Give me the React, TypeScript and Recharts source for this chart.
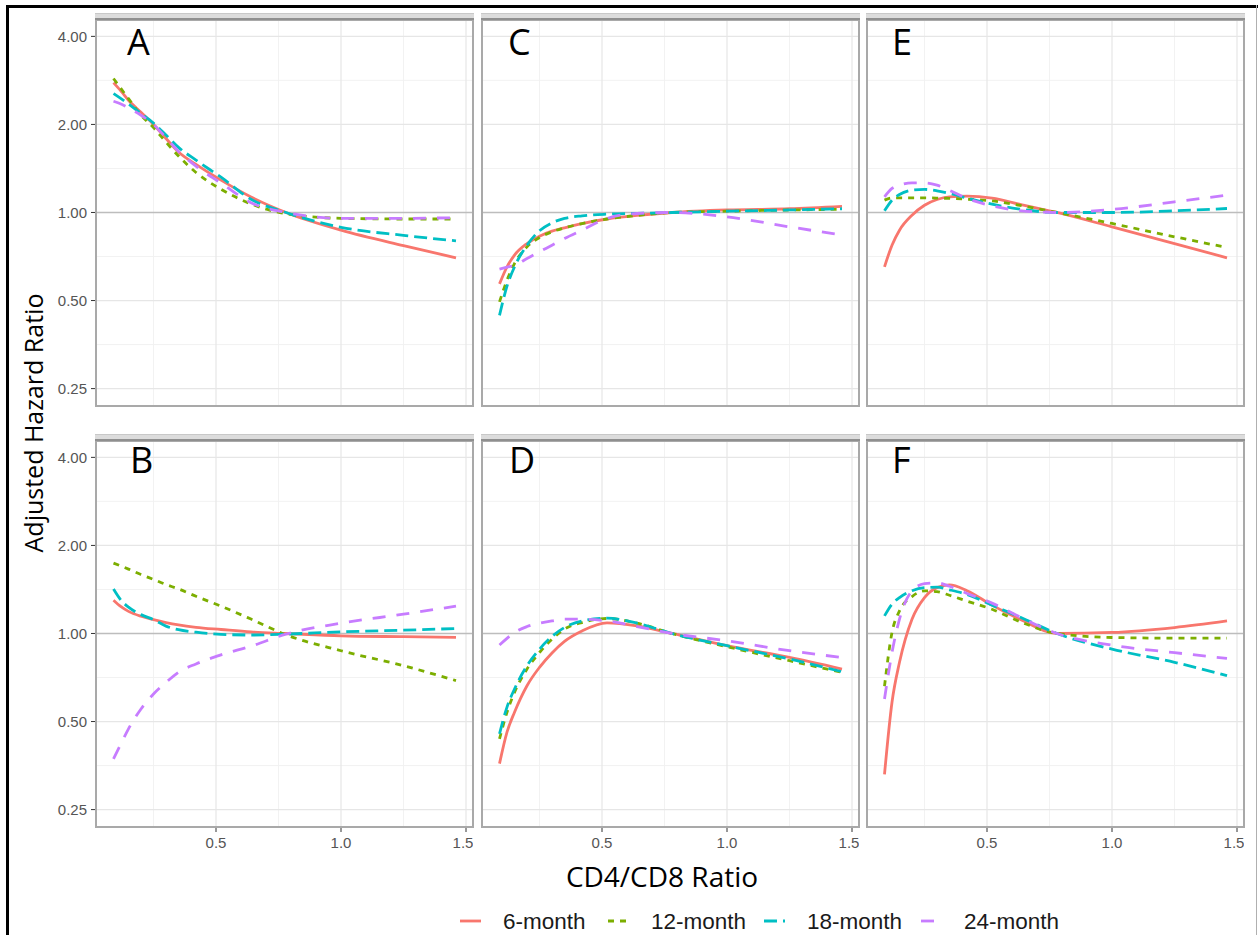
import React from 'react';
import { LineChart, Line, XAxis, YAxis, CartesianGrid } from 'recharts';

const X = [0.09, 0.12, 0.15, 0.2, 0.25, 0.3, 0.35, 0.42, 0.52, 0.64, 0.78, 1.0, 1.25, 1.46];

// panel A
const A_6 = [2.78, 2.6, 2.42, 2.2, 2.0, 1.79, 1.61, 1.46, 1.29, 1.13, 1.0, 0.87, 0.77, 0.7];
const A_12 = [2.87, 2.65, 2.45, 2.15, 1.95, 1.74, 1.56, 1.37, 1.2, 1.07, 0.99, 0.955, 0.95, 0.95];
const A_18 = [2.55, 2.45, 2.35, 2.18, 2.02, 1.84, 1.67, 1.51, 1.32, 1.11, 1.0, 0.89, 0.835, 0.8];
const A_24 = [2.4, 2.35, 2.28, 2.15, 2.0, 1.8, 1.62, 1.44, 1.26, 1.08, 1.0, 0.955, 0.955, 0.96];
// panel B
const B_6 = [1.3, 1.235, 1.19, 1.145, 1.115, 1.09, 1.07, 1.05, 1.032, 1.012, 1.0, 0.982, 0.975, 0.97];
const B_12 = [1.74, 1.7, 1.66, 1.59, 1.53, 1.47, 1.42, 1.34, 1.24, 1.12, 0.99, 0.873, 0.776, 0.69];
const B_18 = [1.42, 1.3, 1.23, 1.16, 1.115, 1.06, 1.03, 1.01, 0.993, 0.988, 0.995, 1.013, 1.026, 1.04];
const B_24 = [0.373, 0.42, 0.472, 0.552, 0.621, 0.68, 0.737, 0.787, 0.845, 0.905, 0.995, 1.084, 1.164, 1.24];
// panel C
const C_6 = [0.57, 0.652, 0.715, 0.783, 0.83, 0.863, 0.886, 0.916, 0.95, 0.977, 1.0, 1.02, 1.03, 1.05];
const C_12 = [0.495, 0.587, 0.669, 0.763, 0.821, 0.859, 0.886, 0.916, 0.95, 0.977, 1.0, 1.01, 1.02, 1.025];
const C_18 = [0.445, 0.56, 0.652, 0.773, 0.866, 0.922, 0.954, 0.974, 0.987, 0.993, 1.0, 1.01, 1.02, 1.03];
const C_24 = [0.64, 0.65, 0.66, 0.696, 0.734, 0.773, 0.815, 0.87, 0.954, 0.992, 1.0, 0.966, 0.893, 0.837];
// panel D
const D_6 = [0.359, 0.46, 0.538, 0.663, 0.766, 0.858, 0.94, 1.02, 1.087, 1.062, 1.0, 0.908, 0.828, 0.756];
const D_12 = [0.436, 0.538, 0.629, 0.756, 0.861, 0.956, 1.035, 1.09, 1.125, 1.085, 1.0, 0.901, 0.807, 0.736];
const D_18 = [0.454, 0.56, 0.646, 0.776, 0.884, 0.977, 1.048, 1.104, 1.128, 1.085, 1.0, 0.908, 0.818, 0.74];
const D_24 = [0.913, 0.962, 1.008, 1.056, 1.085, 1.104, 1.119, 1.119, 1.104, 1.056, 1.0, 0.944, 0.873, 0.828];
// panel E
const E_6 = [0.652, 0.773, 0.87, 0.979, 1.059, 1.108, 1.131, 1.137, 1.12, 1.062, 1.0, 0.893, 0.783, 0.7];
const E_12 = [1.102, 1.122, 1.122, 1.122, 1.122, 1.12, 1.117, 1.11, 1.096, 1.054, 1.0, 0.917, 0.826, 0.759];
const E_18 = [1.013, 1.102, 1.152, 1.192, 1.199, 1.186, 1.162, 1.12, 1.068, 1.024, 1.0, 1.0, 1.013, 1.032];
const E_24 = [1.131, 1.208, 1.24, 1.263, 1.263, 1.24, 1.19, 1.117, 1.054, 1.013, 1.0, 1.024, 1.088, 1.146];
// panel F
const F_6 = [0.33, 0.582, 0.797, 1.119, 1.327, 1.435, 1.465, 1.4, 1.25, 1.11, 1.0, 1.008, 1.048, 1.104];
const F_12 = [0.66, 1.008, 1.195, 1.337, 1.398, 1.39, 1.351, 1.29, 1.21, 1.09, 1.0, 0.969, 0.964, 0.964];
const F_18 = [1.149, 1.26, 1.327, 1.4, 1.434, 1.44, 1.41, 1.36, 1.25, 1.13, 1.0, 0.884, 0.797, 0.717];
const F_24 = [0.597, 0.86, 1.12, 1.4, 1.48, 1.49, 1.45, 1.37, 1.27, 1.13, 1.0, 0.912, 0.86, 0.822];

const X_TICKS = [0.5, 1.0, 1.5];
const X_MINOR = [0.25, 0.75, 1.25];
const Y_TICKS = [0.25, 0.5, 1, 2, 4];
const Y_MINOR = [0.3536, 0.7071, 1.4142, 2.8284];

const SERIES = [
  { key: 'm6', name: '6-month', color: '#F8766D', dash: undefined as string | undefined },
  { key: 'm12', name: '12-month', color: '#7CAE00', dash: '6 6' },
  { key: 'm18', name: '18-month', color: '#00BFC4', dash: '13 6' },
  { key: 'm24', name: '24-month', color: '#C77CFF', dash: '13 11' },
];

const PANELS = [
  { letter: 'A', col: 0, row: 0, series: [A_6, A_12, A_18, A_24] },
  { letter: 'C', col: 1, row: 0, series: [C_6, C_12, C_18, C_24] },
  { letter: 'E', col: 2, row: 0, series: [E_6, E_12, E_18, E_24] },
  { letter: 'B', col: 0, row: 1, series: [B_6, B_12, B_18, B_24] },
  { letter: 'D', col: 1, row: 1, series: [D_6, D_12, D_18, D_24] },
  { letter: 'F', col: 2, row: 1, series: [F_6, F_12, F_18, F_24] },
];

const PANEL_W = 377;
const PANEL_H = 386;
const COL_LEFT = [96, 482, 867];
const ROW_TOP = [20, 441];
const Y_AXIS_W = 96;
const X_AXIS_H = 30;
const X_DOMAIN: [number, number] = [0.02, 1.528];
const Y_DOMAIN: [number, number] = [0.218, 4.55];

const LETTER_POS = { A: [127, 55], C: [508, 55], E: [892, 55], B: [130, 473], D: [509, 473], F: [892, 473] } as Record<string, number[]>;
const LEGEND_X = [460, 608, 764, 921];

const TICK_FONT = '"Liberation Sans", Arial, sans-serif';

// tick labels drawn by hand so the font size sticks
const YTick = (props: any) => (
  <text x={props.x} y={props.y} dy="0.36em" textAnchor="end" fontSize={15} fill="#555" fontFamily={TICK_FONT}>
    {Number(props.payload.value).toFixed(2)}
  </text>
);
const XTick = (props: any) => (
  <text x={props.x} y={props.y} dy="0.72em" textAnchor="middle" fontSize={15} fill="#555" fontFamily={TICK_FONT}>
    {Number(props.payload.value).toFixed(1)}
  </text>
);

function Panel({ col, row, series }: { col: number; row: number; series: number[][] }) {
  const data = X.map((x, i) => {
    const r: Record<string, number> = { x };
    SERIES.forEach((s, k) => { r[s.key] = series[k][i]; });
    return r;
  });
  const showY = col === 0;
  const showX = row === 1;
  const left = showY ? COL_LEFT[col] - Y_AXIS_W : COL_LEFT[col];
  const w = PANEL_W + (showY ? Y_AXIS_W : 0);
  const h = PANEL_H + (showX ? X_AXIS_H : 0);

  return (
    <div style={{ position: 'absolute', left, top: ROW_TOP[row], width: w, height: h }}>
      <LineChart width={w} height={h} data={data} margin={{ top: 0, right: 0, bottom: 0, left: 0 }}>
        <CartesianGrid horizontalValues={Y_MINOR} verticalValues={X_MINOR} stroke="#f1f1f1" strokeWidth={0.9} />
        <CartesianGrid horizontalValues={Y_TICKS} verticalValues={X_TICKS} stroke="#e6e6e6" strokeWidth={1.2} />
        <CartesianGrid vertical={false} horizontalValues={[1]} stroke="#bdbdbd" strokeWidth={1.3} />
        <XAxis
          type="number"
          dataKey="x"
          domain={X_DOMAIN}
          allowDataOverflow
          ticks={X_TICKS}
          hide={!showX}
          height={X_AXIS_H}
          tickSize={5}
          tickMargin={5}
          axisLine={false}
          tickLine={{ stroke: '#333' }}
          tick={<XTick />}
        />
        <YAxis
          type="number"
          scale="log"
          domain={Y_DOMAIN}
          allowDataOverflow
          ticks={Y_TICKS}
          hide={!showY}
          width={Y_AXIS_W}
          tickSize={5}
          tickMargin={4}
          axisLine={false}
          tickLine={{ stroke: '#333' }}
          tick={<YTick />}
        />
        {SERIES.map(s => (
          <Line
            key={s.key}
            dataKey={s.key}
            name={s.name}
            type="monotone"
            stroke={s.color}
            strokeWidth={2.8}
            strokeDasharray={s.dash}
            dot={false}
            activeDot={false}
            isAnimationActive={false}
          />
        ))}
      </LineChart>
    </div>
  );
}

export default function App() {
  return (
    <div style={{ position: 'absolute', left: 0, top: 0, width: 1258, height: 935, background: '#fff', overflow: 'hidden' }}>
      {PANELS.map(p => (
        <Panel key={p.letter} col={p.col} row={p.row} series={p.series} />
      ))}
      {PANELS.map(p => (
        <React.Fragment key={'f' + p.letter}>
          <div style={{
            position: 'absolute', left: COL_LEFT[p.col] - 1, top: ROW_TOP[p.row] - 1,
            width: PANEL_W + 2, height: PANEL_H + 2, border: '2px solid #a9a9a9', boxSizing: 'border-box',
          }} />
          <div style={{
            position: 'absolute', left: COL_LEFT[p.col] - 1, top: ROW_TOP[p.row] - 7,
            width: PANEL_W + 2, height: 7, background: '#dcdcdc', boxSizing: 'border-box',
            borderTop: '1px solid #c8c8c8', borderBottom: '2px solid #8f8f8f',
          }} />
        </React.Fragment>
      ))}
      <svg width={1258} height={935} style={{ position: 'absolute', left: 0, top: 0 }}>
        <rect x={6} y={5} width={3} height={930} fill="#000" />
        <rect x={6} y={5} width={1252} height={3} fill="#000" />
        <rect x={1256} y={5} width={1} height={930} fill="#b0b0b0" />
        {PANELS.map(p => (
          <text key={'l' + p.letter} x={LETTER_POS[p.letter][0]} y={LETTER_POS[p.letter][1]}
            fontFamily='"Open Sans", sans-serif' fontSize={36} fill="#000">{p.letter}</text>
        ))}
        <text transform="translate(43,423) rotate(-90)" textAnchor="middle"
          fontFamily='"Open Sans", sans-serif' fontSize={25} fill="#000">Adjusted Hazard Ratio</text>
        <text x={662} y={887} textAnchor="middle" fontFamily='"Open Sans", sans-serif' fontSize={28} fill="#000">CD4/CD8 Ratio</text>
        {SERIES.map((s, i) => (
          <g key={'lg' + s.key}>
            <line x1={LEGEND_X[i]} x2={LEGEND_X[i] + 21} y1={921} y2={921} stroke={s.color} strokeWidth={2.8} strokeDasharray={s.dash} />
            <text x={LEGEND_X[i] + 43} y={929} fontFamily={TICK_FONT} fontSize={22.5} fill="#1a1a1a">{s.name}</text>
          </g>
        ))}
      </svg>
    </div>
  );
}
